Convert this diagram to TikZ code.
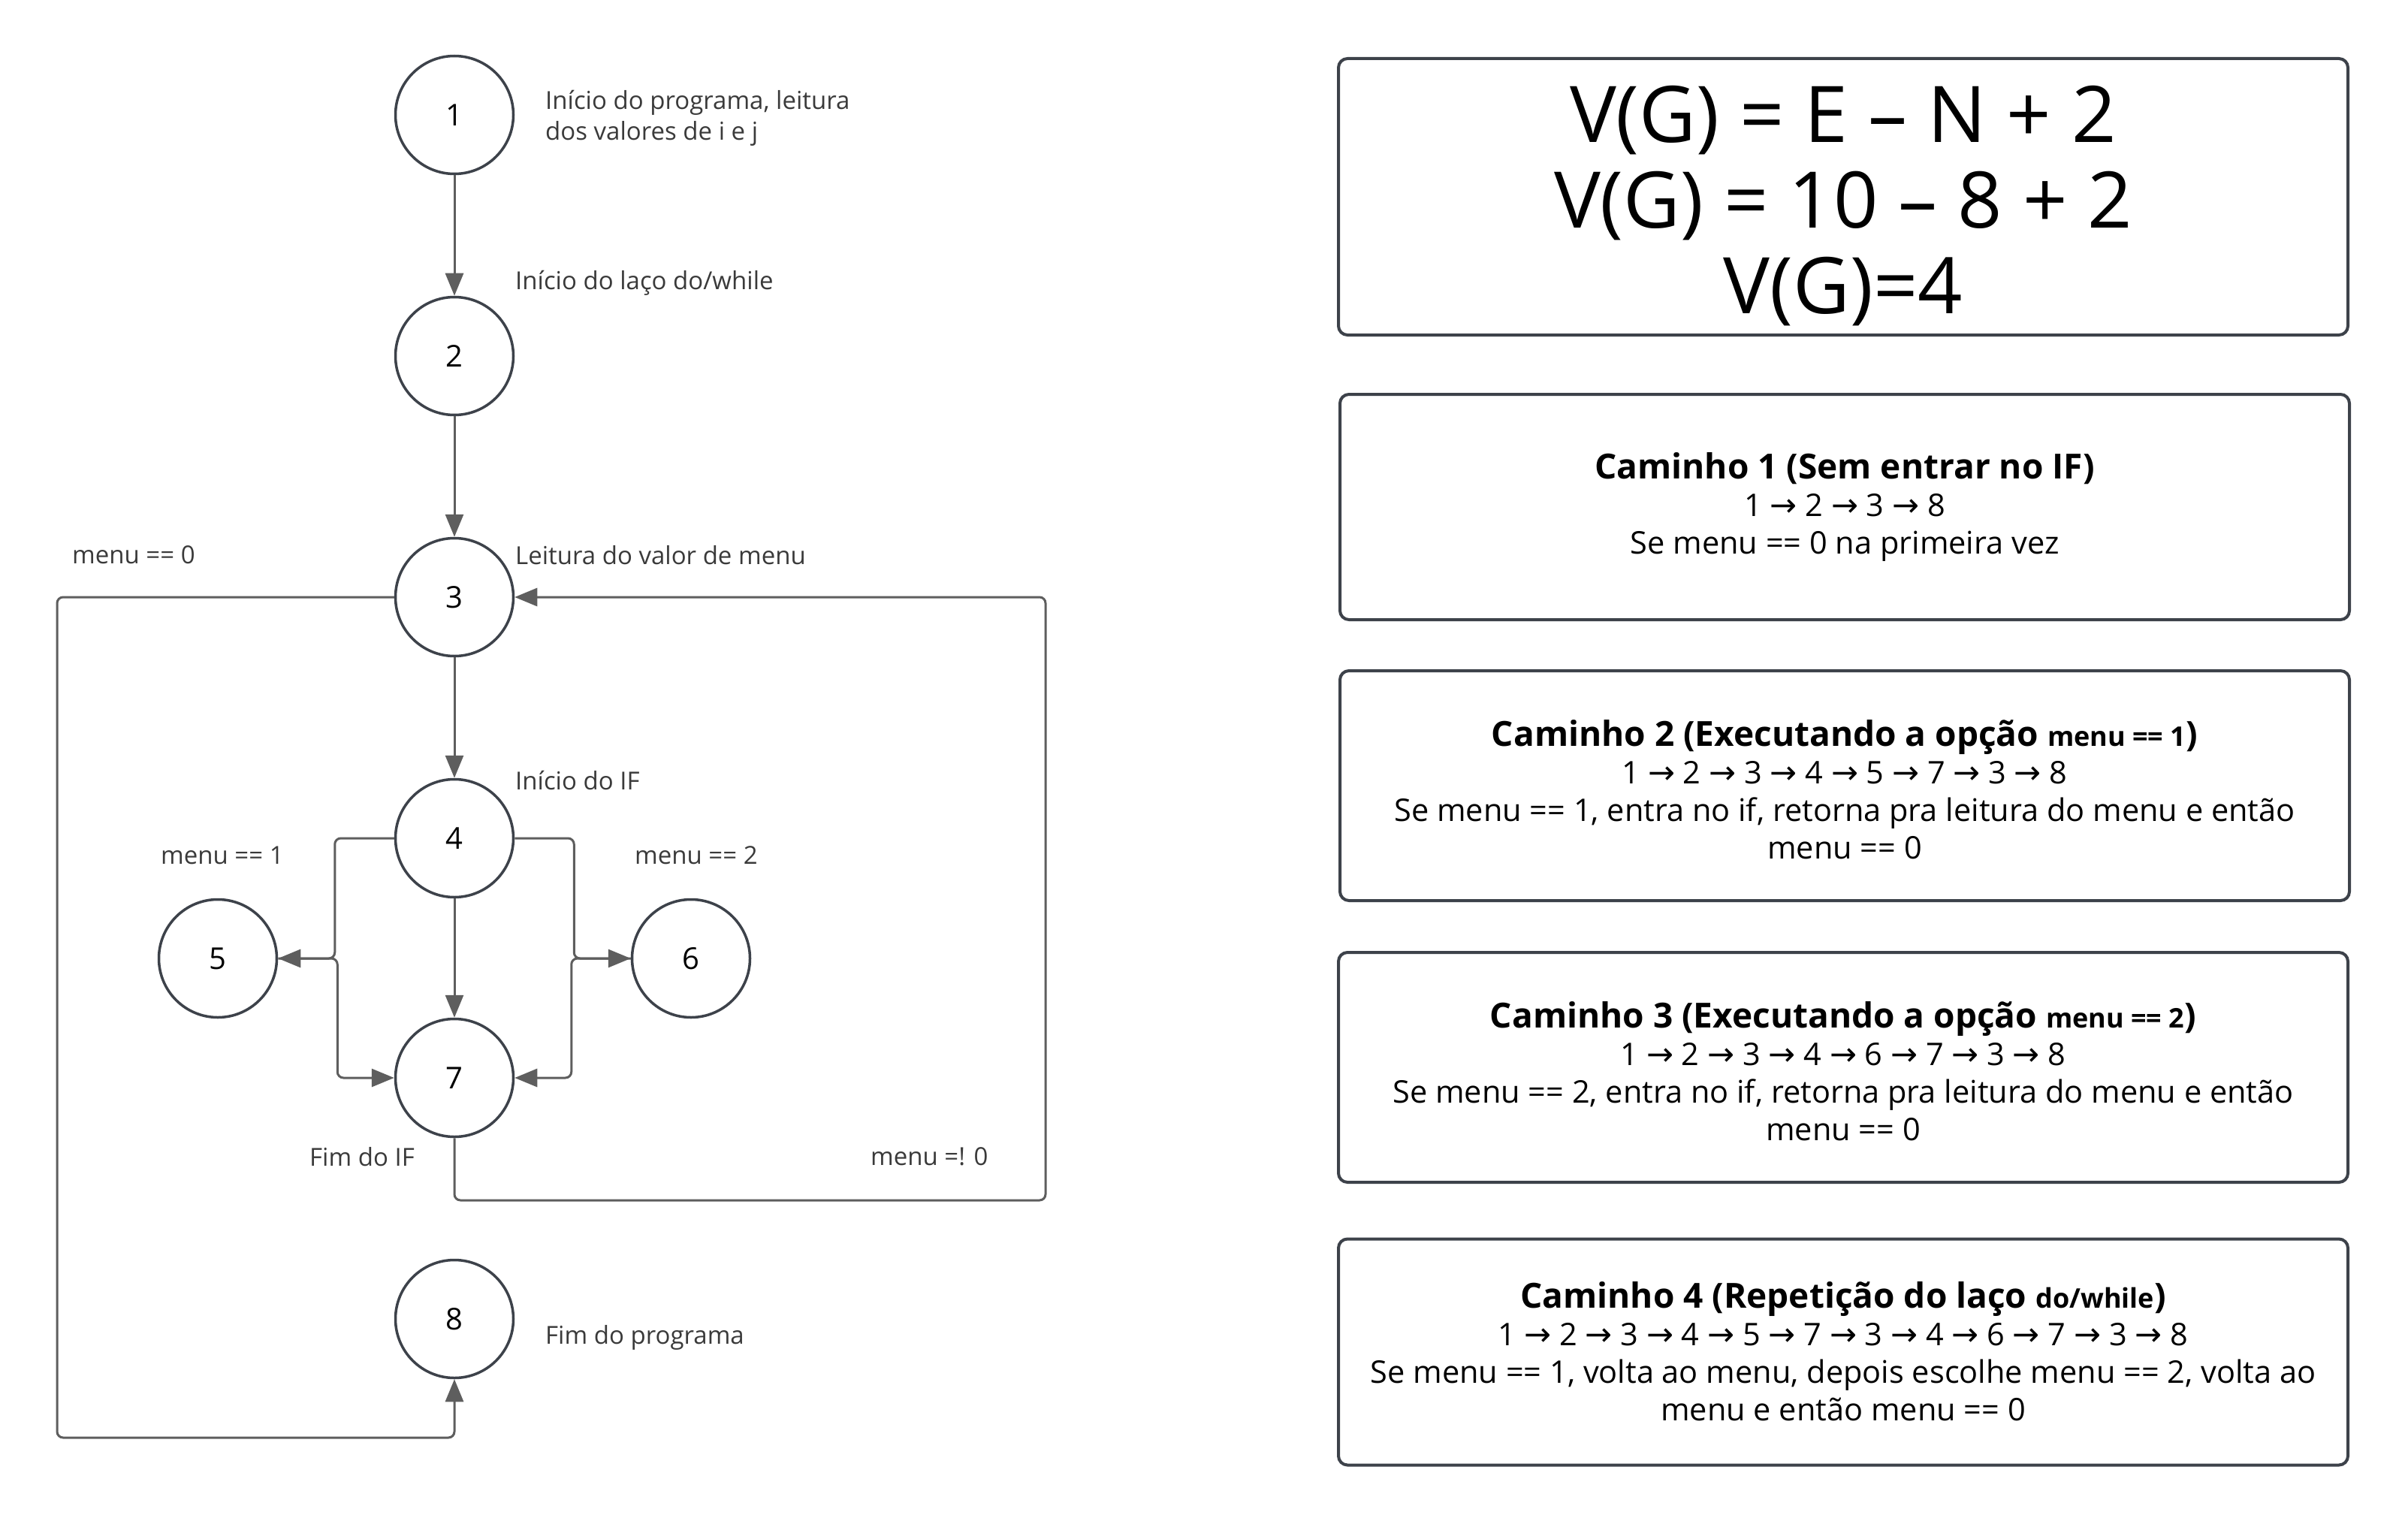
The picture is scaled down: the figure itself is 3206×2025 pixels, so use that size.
\documentclass[tikz,border=0pt]{standalone}
\usepackage{fontspec}
\setmainfont{Open Sans}
\newfontfamily\arrowfont{DejaVu Sans}
\usetikzlibrary{arrows.meta}
\definecolor{strokec}{HTML}{3D424A}
\definecolor{connc}{HTML}{5E5E5E}
\definecolor{lblc}{HTML}{3A3A3A}
\newcommand{\rar}{{\arrowfont\fontsize{43}{50}\selectfont →}}
\begin{document}
\begin{tikzpicture}[x=1pt,y=-1pt,
  circ/.style={circle,draw=strokec,line width=3.5pt,minimum size=157pt,inner sep=0pt,font=\fontsize{40}{48}\selectfont},
  conn/.style={draw=connc,line width=3pt,rounded corners=8pt,-{Triangle[length=30pt,width=24pt]}},
  lab/.style={anchor=west,text=lblc,font=\fontsize{33}{41}\selectfont,inner sep=0pt,align=left},
  pbox/.style={draw=strokec,line width=4pt,rounded corners=12pt,minimum width=1344pt,inner sep=0pt},
  ptext/.style={align=center,inner sep=0pt,font=\fontsize{41.5}{50}\selectfont}]
\fill[white] (0,0) rectangle (3206,2025);
\useasboundingbox (0,0) rectangle (3206,2025);

% graph nodes
\node[circ] (n1) at (605,153) {1};
\node[circ] (n2) at (605,474) {2};
\node[circ] (n3) at (605,795) {3};
\node[circ] (n4) at (605,1116) {4};
\node[circ] (n5) at (290,1276) {5};
\node[circ] (n6) at (920,1276) {6};
\node[circ] (n7) at (605,1435) {7};
\node[circ] (n8) at (605,1756) {8};

\coordinate (rb) at (1392,1598);
\coordinate (lb) at (76,1914);

% connectors
\draw[conn] (n1) -- (n2);
\draw[conn] (n2) -- (n3);
\draw[conn] (n3) -- (n4);
\draw[conn] (n4) -- (n7);
\draw[conn] (n4.west) -- ++(-79,0) |- (n5.east);
\draw[conn] (n5.east) -- ++(79,0) |- (n7.west);
\draw[conn] (n4.east) -- ++(79,0) |- (n6.west);
\draw[conn] (n6.west) -- ++(-79,0) |- (n7.east);
\draw[conn] (n7.south) |- (rb) |- (n3.east);
\draw[conn] (n3.west) -| (lb) -| (n8.south);

% labels
\node[lab] (l1) at (726,157) {Início do programa, leitura\\dos valores de i e j};
\node[lab] (l2) at (686,377) {Início do laço do/while};
\node[lab] (l3) at (686,739) {Leitura do valor de menu};
\node[lab] (l0) at (96,739) {menu == 0};
\node[lab] (l4) at (686,1039) {Início do IF};
\node[lab] (lm1) at (214,1139) {menu == 1};
\node[lab] (lm2) at (845,1139) {menu == 2};
\node[lab] (l7) at (412,1540) {Fim do IF};
\node[lab] (lne) at (1159,1540) {menu =! 0};
\node[lab] (l8) at (726,1781) {Fim do programa};

% right boxes
\node[pbox,minimum height=368pt] (vg) at (2454,262) {};
\node[align=center,inner sep=0pt,font=\fontsize{104}{114}\selectfont] (vgt) at (2454,274)
  {V(G) = E – N + 2\\V(G) = 10 – 8 + 2\\V(G)=4};

\node[pbox,minimum height=300pt] (c1) at (2456,675) {};
\node[ptext] (c1t) at (2456,675)
  {{\bfseries\fontsize{46}{50}\selectfont Caminho 1 (Sem entrar no IF)}\\
   1 \rar{} 2 \rar{} 3 \rar{} 8\\
   Se menu == 0 na primeira vez};

\node[pbox,minimum height=306pt] (c2) at (2456,1046) {};
\node[ptext] (c2t) at (2456,1051)
  {{\bfseries\fontsize{46}{50}\selectfont Caminho 2 (Executando a opção {\fontsize{36}{50}\selectfont menu == 1})}\\
   1 \rar{} 2 \rar{} 3 \rar{} 4 \rar{} 5 \rar{} 7 \rar{} 3 \rar{} 8\\
   Se menu == 1, entra no if, retorna pra leitura do menu e então\\
   menu == 0};

\node[pbox,minimum height=306pt] (c3) at (2454,1421) {};
\node[ptext] (c3t) at (2454,1426)
  {{\bfseries\fontsize{46}{50}\selectfont Caminho 3 (Executando a opção {\fontsize{36}{50}\selectfont menu == 2})}\\
   1 \rar{} 2 \rar{} 3 \rar{} 4 \rar{} 6 \rar{} 7 \rar{} 3 \rar{} 8\\
   Se menu == 2, entra no if, retorna pra leitura do menu e então\\
   menu == 0};

\node[pbox,minimum height=301pt] (c4) at (2454,1800) {};
\node[ptext] (c4t) at (2454,1799)
  {{\bfseries\fontsize{46}{50}\selectfont Caminho 4 (Repetição do laço {\fontsize{36}{50}\selectfont do/while})}\\
   1 \rar{} 2 \rar{} 3 \rar{} 4 \rar{} 5 \rar{} 7 \rar{} 3 \rar{} 4 \rar{} 6 \rar{} 7 \rar{} 3 \rar{} 8\\
   Se menu == 1, volta ao menu, depois escolhe menu == 2, volta ao\\
   menu e então menu == 0};
\end{tikzpicture}
\end{document}
